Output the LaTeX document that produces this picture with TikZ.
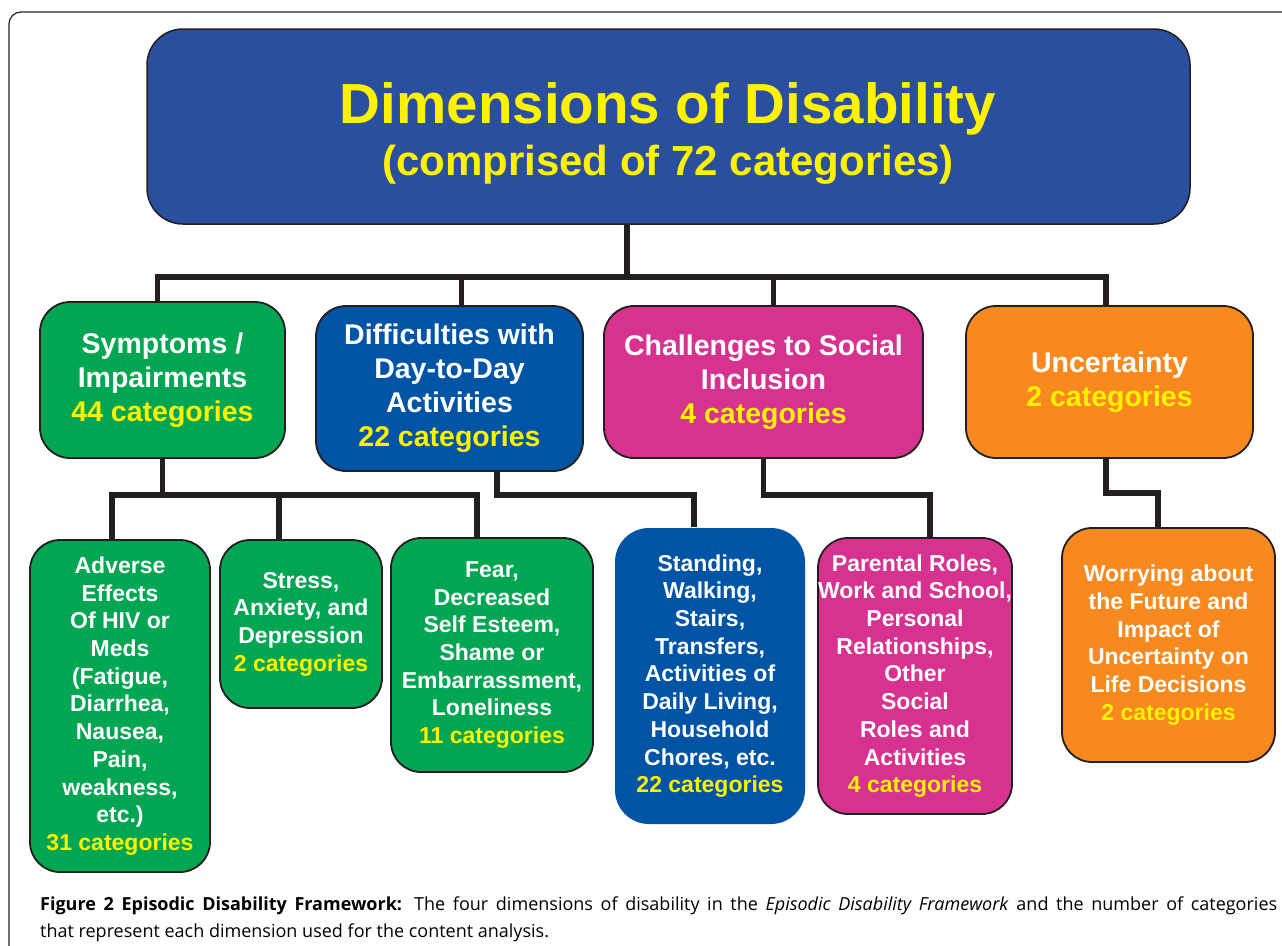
\documentclass[tikz,border=0pt]{standalone}
\usepackage{fontspec}
\setmainfont{Liberation Sans}
\newfontfamily\capfont{Open Sans}

\definecolor{edge}{HTML}{231F20}
\definecolor{headblue}{HTML}{2A4F9F}
\definecolor{dimblue}{HTML}{0054A6}
\definecolor{dimgreen}{HTML}{00A651}
\definecolor{dimpink}{HTML}{D7328F}
\definecolor{dimorange}{HTML}{F7891F}
\definecolor{catyellow}{HTML}{FFF200}

\newcommand{\ncat}[1]{\textcolor{catyellow}{#1 categories}}

\begin{document}
\begin{tikzpicture}[x=1pt,y=-1pt]
	\tikzset{
		box/.style={draw=edge,line width=1.8pt,rounded corners=30pt,inner sep=0pt,align=center,text=white,font=\bfseries\fontsize{23}{27.7}\selectfont},
		dimbox/.style={box,font=\bfseries\fontsize{28.5}{34}\selectfont},
		wire/.style={draw=edge,line width=5.5pt},
	}
	\useasboundingbox (0,0) rectangle (1282,945);

	% Draw the frame
	\draw[edge,line width=1.2pt,rounded corners=12pt] (9,960) -- (9,12) -- (1300,12);

	% heading box
	\node[box,fill=headblue,line width=1.5pt,rounded corners=36pt,minimum width=1043pt,minimum height=195pt] (title) at (668.5,126.5) {};
	\node[align=center,text=catyellow,font=\bfseries\fontsize{42}{52}\selectfont] (head) at (668,133)
		{{\fontsize{56.5}{60}\selectfont Dimensions of Disability}\\(comprised of 72 categories)};

	% the four dimensions
	\node[dimbox,fill=dimgreen,minimum width=245pt,minimum height=156pt] (sym) at (162.5,380) {Symptoms /\\Impairments\\\ncat{44}};
	\node[dimbox,fill=dimblue,minimum width=267pt,minimum height=165pt] (dif) at (449.5,388.5) {Difficulties with\\Day-to-Day\\Activities\\\ncat{22}};
	\node[dimbox,fill=dimpink,minimum width=319pt,minimum height=152pt] (soc) at (763.5,382) {Challenges to Social\\Inclusion\\\ncat{4}};
	\node[dimbox,fill=dimorange,minimum width=287pt,minimum height=152pt] (unc) at (1109.5,382) {Uncertainty\\\ncat{2}};

	% categories under each dimension
	\node[box,fill=dimgreen,minimum width=180pt,minimum height=332pt] (adv) at (120,706) {Adverse\\Effects\\Of HIV or\\Meds\\(Fatigue,\\Diarrhea,\\Nausea,\\Pain,\\weakness,\\etc.)\\\ncat{31}};
	\node[box,fill=dimgreen,minimum width=162pt,minimum height=168pt] (str) at (301,624) {Stress,\\Anxiety, and\\Depression\\\ncat{2}};
	\node[box,fill=dimgreen,minimum width=202pt,minimum height=234pt] (fear) at (492,655) {Fear,\\Decreased\\Self Esteem,\\Shame or\\Embarrassment,\\Loneliness\\\ncat{11}};
	\node[box,draw=none,fill=dimblue,rounded corners=34pt,minimum width=190pt,minimum height=296pt] (std) at (710,676) {Standing,\\Walking,\\Stairs,\\Transfers,\\Activities of\\Daily Living,\\Household\\Chores, etc.\\\ncat{22}};
	\node[box,fill=dimpink,minimum width=194pt,minimum height=276pt] (par) at (915,676) {Parental Roles,\\Work and School,\\Personal\\Relationships,\\Other\\Social\\Roles and\\Activities\\\ncat{4}};
	\node[box,fill=dimorange,minimum width=213pt,minimum height=234pt] (wor) at (1168.5,645) {Worrying about\\the Future and\\Impact of\\Uncertainty on\\Life Decisions\\\ncat{2}};

	% connectors, top level
	\coordinate (bus) at (627,277);
	\draw[wire] (title.south -| bus) -- (bus);
	\draw[wire] ([xshift=-5pt]sym.north) |- (bus);
	\draw[wire] ([xshift=12pt]dif.north) |- (bus);
	\draw[wire] ([xshift=10pt]soc.north) |- (bus);
	\draw[wire] ([xshift=-3.5pt]unc.north) |- (bus);

	% connectors, second level
	\draw[wire] (sym.south) -- ++(0,36) coordinate (symbus);
	\draw[wire] ([xshift=-8pt]adv.north) |- (symbus);
	\draw[wire] ([xshift=-22pt]str.north) |- (symbus);
	\draw[wire] ([xshift=-15pt]fear.north) |- (symbus);
	\draw[wire] ([xshift=47.5pt]dif.south) -- ++(0,23) -| ([xshift=-16pt]std.north);
	\draw[wire] (soc.south) -- ++(0,36) -| ([xshift=15pt]par.north);
	\draw[wire] ([xshift=-3.5pt]unc.south) -- ++(0,34) -| ([xshift=-10.5pt]wor.north);

	% caption
	\node[anchor=north west,inner sep=0pt,align=left,font=\capfont\fontsize{18}{27}\selectfont] (cap) at (40,897)
		{\makebox[1237pt][s]{\textbf{Figure 2 Episodic Disability Framework:} The four dimensions of disability in the \textit{Episodic Disability Framework} and the number of categories}\\
		 that represent each dimension used for the content analysis.};
\end{tikzpicture}
\end{document}
